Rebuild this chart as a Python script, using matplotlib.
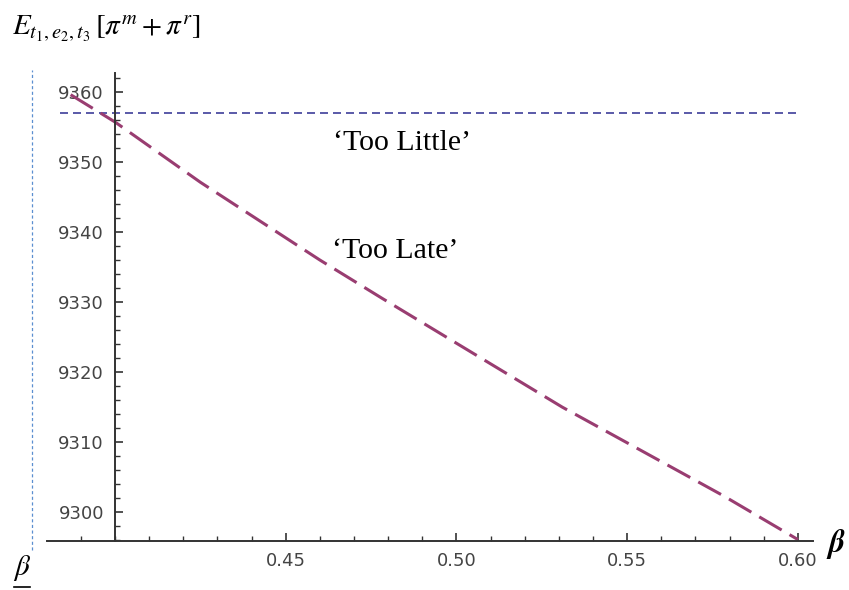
import matplotlib
matplotlib.use("Agg")
import matplotlib.pyplot as plt
from matplotlib.lines import Line2D
from matplotlib.ticker import MultipleLocator, FixedLocator

plt.rcParams["mathtext.fontset"] = "stix"

# data
beta_late = [0.387, 0.40, 0.425, 0.46, 0.478, 0.531, 0.578, 0.60]
profit_late = [9359.6, 9355.7, 9347.1, 9336.0, 9330.6, 9315.0, 9302.4, 9296.1]
beta_little = [0.384, 0.60]
profit_little = [9357.0, 9357.0]
beta_lower = 0.3757

x_ticks = [0.45, 0.50, 0.55, 0.60]
x_labels = ["0.45", "0.50", "0.55", "0.60"]
y_ticks = [9300, 9310, 9320, 9330, 9340, 9350, 9360]

c_little = "#3d3d99"
c_late = "#993d71"

fig = plt.figure(figsize=(8.49, 5.9), dpi=100)
ax = fig.add_axes([0.01484, 0.0831, 0.9451, 0.7932])
ax.set_xlim(0.37, 0.605)
ax.set_ylim(9295.9, 9362.7)

ax.plot(beta_little, profit_little, color=c_little, lw=1.2, dashes=(4.8, 3))
ax.plot(beta_late, profit_late, color=c_late, lw=2.2, dashes=(8.5, 3))

# lower bound of beta, drawn outside the axis range
ax.plot([beta_lower, beta_lower], [9294.6, 9363.1], color="#5b8fd0",
        lw=0.9, dashes=(2.5, 2), clip_on=False)

for s in ["top", "right"]:
    ax.spines[s].set_visible(False)
ax.spines["left"].set_position(("data", 0.40))
ax.spines["bottom"].set_bounds(0.38, 0.6044)
for s in ["left", "bottom"]:
    ax.spines[s].set_color("#333333")
    ax.spines[s].set_linewidth(1.4)

ax.xaxis.set_major_locator(FixedLocator(x_ticks))
ax.set_xticklabels(x_labels)
ax.xaxis.set_minor_locator(FixedLocator([0.39 + 0.01 * i for i in range(21)]))
ax.yaxis.set_major_locator(FixedLocator(y_ticks))
ax.yaxis.set_minor_locator(MultipleLocator(2))
ax.tick_params(which="major", direction="in", length=6, width=1.2,
               color="#333333", labelsize=13, labelcolor="#444444")
ax.tick_params(which="minor", direction="in", length=3.5, width=1.0,
               color="#333333")
ax.tick_params(axis="x", which="major", pad=8)
ax.tick_params(axis="y", which="major", pad=8)
for lab in ax.get_xticklabels() + ax.get_yticklabels():
    lab.set_family("DejaVu Sans")

serif = ["Liberation Serif", "DejaVu Serif"]
ax.text(0.4840, 9352.7, "\u2018Too Little\u2019", family=serif, fontsize=21.5,
        ha="center", va="center")
ax.text(0.4820, 9337.3, "\u2018Too Late\u2019", family=serif, fontsize=21.5,
        ha="center", va="center")

fig.text(12 / 849, 1 - 29 / 590, r"$E_{t_1,e_2,t_3}\,[\pi^m+\pi^r]$",
         fontsize=21, ha="left", va="center")
fig.text(836 / 849, 1 - 544 / 590, r"$\boldsymbol{\beta}$", fontsize=23,
         ha="center", va="center")
fig.text(22 / 849, 1 - 568 / 590, r"$\beta$", fontsize=21,
         ha="center", va="center")
fig.add_artist(Line2D([14 / 849, 30 / 849], [1 - 587 / 590, 1 - 587 / 590],
                      color="black", lw=1.2))

fig.savefig("out.png", dpi=100)
